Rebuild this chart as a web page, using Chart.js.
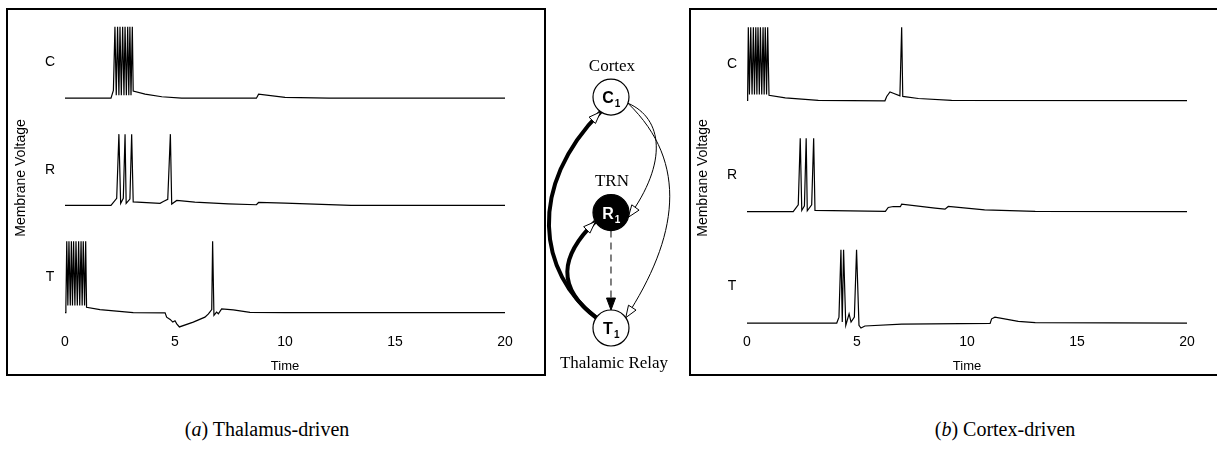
<!DOCTYPE html>
<html>
<head>
<meta charset="utf-8">
<script src="https://cdn.jsdelivr.net/npm/chart.js@4.4.0/dist/chart.umd.min.js"></script>
<style>
  html, body { margin: 0; padding: 0; background: #fff; }
  body { width: 1217px; height: 451px; position: relative; overflow: hidden; }
  .panel { position: absolute; box-sizing: border-box; border: 2px solid #000; }
  #panelA { left: 6px; top: 8px; width: 540px; height: 368px; }
  #panelB { left: 689px; top: 8px; width: 532px; height: 368px; }
  .panel canvas, #diagram canvas { display: block; }
  #diagram { position: absolute; left: 546px; top: 0px; }
  .caption { position: absolute; top: 417px; line-height: 24px; font-family: "Liberation Serif", "Times New Roman", serif;
             font-size: 20px; white-space: nowrap; transform: translateX(-50%); color: #000; }
</style>
</head>
<body>
<div class="panel" id="panelA"><canvas id="chartA" width="536" height="364"></canvas></div>
<div id="diagram"><canvas id="chartD" width="142" height="400"></canvas></div>
<div class="panel" id="panelB"><canvas id="chartB" width="528" height="364"></canvas></div>
<div class="caption" style="left:267px">(<i>a</i>) Thalamus-driven</div>
<div class="caption" style="left:1005px">(<i>b</i>) Cortex-driven</div>

<script>
// ==================================================
// DATA  (time axis units, membrane voltage in mV)
// ==================================================
const timeTicks = [0, 5, 10, 15, 20];
const traceNames = ['C', 'R', 'T'];

// (a) Thalamus-driven
const aC_t = [0, 2.09, 2.2, 2.27, 2.33, 2.39, 2.45, 2.5, 2.56, 2.62, 2.68, 2.73, 2.79, 2.85, 2.9, 2.95, 3.0, 3.06, 3.1, 3.64, 4.4, 5.3, 8.7, 8.8, 10, 12, 20];
const aC_v = [-70, -70, -59, 30, -66, 30, -66, 30, -66, 30, -66, 30, -66, 30, -66, 30, -66, 30, -60, -64.4, -68, -70, -70, -64.5, -69, -70, -70];

const aR_t = [0, 2.09, 2.35, 2.45, 2.53, 2.65, 2.73, 2.78, 2.95, 3.03, 3.1, 4.32, 4.47, 4.67, 4.79, 4.85, 5.08, 5.9, 7.42, 8.7, 8.8, 10, 13, 20];
const aR_v = [-70, -70, -60, 30, -67, -60, 30, -67, -61, 30, -65, -67, -64.5, -61.5, 30, -68, -63, -65.4, -67.8, -69, -65.8, -66.8, -70, -70];

const aT_t = [0, 0.04, 0.08, 0.13, 0.18, 0.24, 0.29, 0.34, 0.39, 0.45, 0.5, 0.56, 0.62, 0.67, 0.73, 0.78, 0.83, 0.89, 0.94,
              0.98, 1.59, 3.1, 4.55, 4.62, 4.78, 4.9, 5.0, 5.08, 5.2, 5.83, 6.36, 6.52, 6.67, 6.71, 6.77, 6.89, 6.97, 7.12, 7.65, 8.41, 10, 20];
const aT_v = [-70, -62, 30, -60, 30, -60, 30, -60, 30, -60, 30, -60, 30, -60, 30, -60, 30, -60, 30,
              -62.4, -65.6, -70, -70.3, -76.3, -79.4, -83.2, -81.4, -85.6, -90, -83.2, -76.3, -71.7, -65.6, 30, -73.9, -69.3, -71.5, -64.7, -66.1, -69.5, -70, -70];

// (b) Cortex-driven
const bC_t = [0, 0.03, 0.06, 0.11, 0.17, 0.23, 0.29, 0.34, 0.4, 0.45, 0.5, 0.56, 0.61, 0.67, 0.73, 0.78, 0.83, 0.89, 0.94,
              1.0, 1.74, 3.24, 6.27, 6.35, 6.5, 6.65, 6.95, 7.03, 7.08, 7.79, 9.3, 20];
const bC_v = [-70, -62, 30, -62, 30, -62, 30, -62, 30, -62, 30, -62, 30, -62, 30, -62, 30, -62, 30,
              -63, -66.5, -70, -70.5, -64.6, -58.4, -60.1, -63.8, 30, -64.5, -67.3, -70, -70.3];

const bR_t = [0, 2.1, 2.33, 2.42, 2.49, 2.61, 2.69, 2.74, 2.94, 3.03, 3.09, 6.29, 6.42, 6.65, 6.97, 7.03, 8.55, 9.0, 9.15, 10.8, 13.1, 20];
const bR_v = [-70, -70, -60.8, 30, -68.4, -62.2, 30, -68.9, -60.8, 30, -68.4, -69.7, -64.3, -63, -63.3, -59.9, -65.3, -66.6, -63, -67.6, -69.7, -70];

const bT_t = [0, 4.08, 4.18, 4.27, 4.33, 4.39, 4.49, 4.64, 4.73, 4.88, 4.98, 5.09, 5.18, 5.36, 7.03, 11.05, 11.12, 11.27, 12.33, 13.1, 20];
const bT_v = [-70, -70, -61.9, 30, -68.6, 30, -73.1, -57.4, -68.6, -61.9, 30, -73.1, -76.8, -74, -71.4, -70.5, -64.2, -61.9, -67.7, -69.5, -70];

// circuit diagram
const nodeNames = ['C', 'R', 'T'];
const nodeTitles = ['Cortex', 'TRN', 'Thalamic Relay'];
const nodeX = [0, 0, 0];
const nodeY = [3, 2, 1];
const edgeFrom = [2, 2, 0, 0, 1];
const edgeTo = [0, 1, 1, 2, 2];

// ==================================================
// TRACE PANELS
// ==================================================
Chart.defaults.font.family = '"Liberation Sans", Arial, Helvetica, sans-serif';
Chart.defaults.color = '#000';

const REST = -70;
const AREA_TOP = 11;     // page y of chart area top (canvas top 10 + 1 padding)
const AREA_H = 322.6;    // chart area height once the x axis is laid out

function toPoints(ts, vs) {
    return ts.map((t, i) => ({ x: t, y: vs[i] }));
}

const traceLabels = {
    id: 'traceLabels',
    afterDraw(chart, args, opts) {
        const ctx = chart.ctx;
        const area = chart.chartArea;
        ctx.save();
        ctx.fillStyle = '#000';
        ctx.font = '14px "Liberation Sans", Arial, sans-serif';
        ctx.textAlign = 'center';
        ctx.textBaseline = 'middle';
        traceNames.forEach((name, i) => {
            const y = chart.scales['y' + i].getPixelForValue(-20);
            ctx.fillText(name, area.left - 15, y);
        });
        ctx.translate(area.left - 44, opts.titleY);
        ctx.rotate(-Math.PI / 2);
        ctx.fillText('Membrane Voltage', 0, 0);
        ctx.restore();
    }
};

function makePanel(canvasId, series, geom) {
    const scales = {
        x: {
            type: 'linear', min: 0, max: 20,
            afterBuildTicks: axis => { axis.ticks = timeTicks.map(v => ({ value: v })); },
            ticks: { font: { size: 14 }, color: '#000', padding: 3, maxRotation: 0 },
            grid: { display: false, drawTicks: false },
            border: { display: false },
            title: { display: true, text: 'Time', font: { size: 13 }, color: '#000', padding: { top: 5, bottom: 0 } }
        }
    };
    geom.bases.forEach((b, i) => {
        // b = page y of the resting level of trace i
        scales['y' + i] = {
            type: 'linear', display: false,
            max: REST + (b - AREA_TOP) / geom.k,
            min: REST - (AREA_TOP + AREA_H - b) / geom.k
        };
    });
    const datasets = series.map((s, i) => ({
        data: toPoints(s[0], s[1]),
        yAxisID: 'y' + i,
        borderColor: '#000',
        borderWidth: 1.2,
        pointRadius: 0,
        tension: 0,
        clip: false
    }));
    return new Chart(document.getElementById(canvasId), {
        type: 'line',
        data: { datasets },
        options: {
            responsive: false,
            animation: false,
            layout: { padding: { left: geom.padLeft, right: geom.padRight, top: 1, bottom: 0 } },
            scales,
            plugins: { legend: { display: false }, tooltip: { enabled: false }, traceLabels: { titleY: 168 } }
        },
        plugins: [traceLabels]
    });
}

makePanel('chartA', [[aC_t, aC_v], [aR_t, aR_v], [aT_t, aT_v]],
    { padLeft: 57, padRight: 39, bases: [99, 207.3, 315.5], k: 0.72 });
makePanel('chartB', [[bC_t, bC_v], [bR_t, bR_v], [bT_t, bT_v]],
    { padLeft: 56, padRight: 32, bases: [101.3, 213.5, 326], k: 0.74 });

// ==================================================
// CIRCUIT DIAGRAM
// ==================================================
const NODE_R = 18;
// per-edge drawing style: start/end angle on the circle, control offsets, width, dash, head
const edgeStyle = [
    { sa: 215, ea: 125, c1: [-58, -45], c2: [-74, 75], w: 4, head: 'open' },
    { sa: 215, ea: 150, c1: [-40, -30], c2: [-36, 35], w: 4, head: 'open' },
    { sa: 20, ea: 15, c1: [35, 15], c2: [40, -55], w: 1, head: 'open' },
    { sa: 20, ea: -35, c1: [62, 60], c2: [52, -80], w: 1, head: 'open' },
    { sa: 90, ea: -90, c1: null, c2: null, w: 1, head: 'filled', dash: [7, 5] }
];

function onCircle(p, deg) {
    const a = deg * Math.PI / 180;
    return { x: p.x + NODE_R * Math.cos(a), y: p.y + NODE_R * Math.sin(a) };
}

function drawHead(ctx, tip, from, filled) {
    const ang = Math.atan2(tip.y - from.y, tip.x - from.x);
    const L = 12, W = 4.5;
    const bx = tip.x - L * Math.cos(ang), by = tip.y - L * Math.sin(ang);
    ctx.beginPath();
    ctx.moveTo(tip.x, tip.y);
    ctx.lineTo(bx + W * Math.sin(ang), by - W * Math.cos(ang));
    ctx.lineTo(bx - W * Math.sin(ang), by + W * Math.cos(ang));
    ctx.closePath();
    ctx.setLineDash([]);
    ctx.lineWidth = 1;
    ctx.fillStyle = filled ? '#000' : '#fff';
    ctx.fill();
    ctx.stroke();
}

const circuitPlugin = {
    id: 'circuit',
    beforeDatasetsDraw(chart) {
        const ctx = chart.ctx;
        const xs = chart.scales.x, ys = chart.scales.y;
        const pos = nodeX.map((x, i) => ({ x: xs.getPixelForValue(x), y: ys.getPixelForValue(nodeY[i]) }));
        ctx.save();
        ctx.strokeStyle = '#000';
        edgeFrom.forEach((f, i) => {
            const st = edgeStyle[i];
            const a = onCircle(pos[f], st.sa);
            const b = onCircle(pos[edgeTo[i]], st.ea);
            ctx.beginPath();
            ctx.lineWidth = st.w;
            ctx.setLineDash(st.dash || []);
            ctx.moveTo(a.x, a.y);
            let from = a;
            if (st.c1) {
                const c1 = { x: a.x + st.c1[0], y: a.y + st.c1[1] };
                const c2 = { x: b.x + st.c2[0], y: b.y + st.c2[1] };
                ctx.bezierCurveTo(c1.x, c1.y, c2.x, c2.y, b.x, b.y);
                from = c2;
            } else {
                ctx.lineTo(b.x, b.y);
            }
            ctx.stroke();
            drawHead(ctx, b, from, st.head === 'filled');
        });
        ctx.restore();
    },
    afterDatasetsDraw(chart) {
        const ctx = chart.ctx;
        const xs = chart.scales.x, ys = chart.scales.y;
        ctx.save();
        nodeNames.forEach((n, i) => {
            const px = xs.getPixelForValue(nodeX[i]), py = ys.getPixelForValue(nodeY[i]);
            ctx.fillStyle = i === 1 ? '#fff' : '#000';
            ctx.textBaseline = 'alphabetic';
            ctx.textAlign = 'left';
            ctx.font = 'bold 16px "Liberation Sans", Arial, sans-serif';
            const w = ctx.measureText(n).width;
            ctx.fillText(n, px - w / 2 - 3, py + 6);
            ctx.font = 'bold 10px "Liberation Sans", Arial, sans-serif';
            ctx.fillText('1', px + w / 2 - 2, py + 10);
            // titles
            ctx.fillStyle = '#000';
            ctx.textAlign = 'center';
            ctx.textBaseline = 'middle';
            ctx.font = '17px "Liberation Serif", "Times New Roman", serif';
            const ty = i === 2 ? py + 36 : py - 31;
            ctx.fillText(nodeTitles[i], px + (i === 2 ? 3 : 1), ty);
        });
        ctx.restore();
    }
};

// the chart area is inset by the node radius + border (19.2 px) on every side
new Chart(document.getElementById('chartD'), {
    type: 'scatter',
    data: {
        datasets: [{
            data: nodeX.map((x, i) => ({ x, y: nodeY[i] })),
            pointRadius: NODE_R,
            pointBackgroundColor: ['#fff', '#000', '#fff'],
            pointBorderColor: '#000',
            pointBorderWidth: 1.2,
            clip: false
        }]
    },
    options: {
        responsive: false,
        animation: false,
        layout: { padding: 0 },
        scales: {
            x: { type: 'linear', display: false, min: -0.636, max: 0.803 },
            y: { type: 'linear', display: false, min: 0.543, max: 3.674 }
        },
        plugins: { legend: { display: false }, tooltip: { enabled: false } }
    },
    plugins: [circuitPlugin]
});
</script>
</body>
</html>
